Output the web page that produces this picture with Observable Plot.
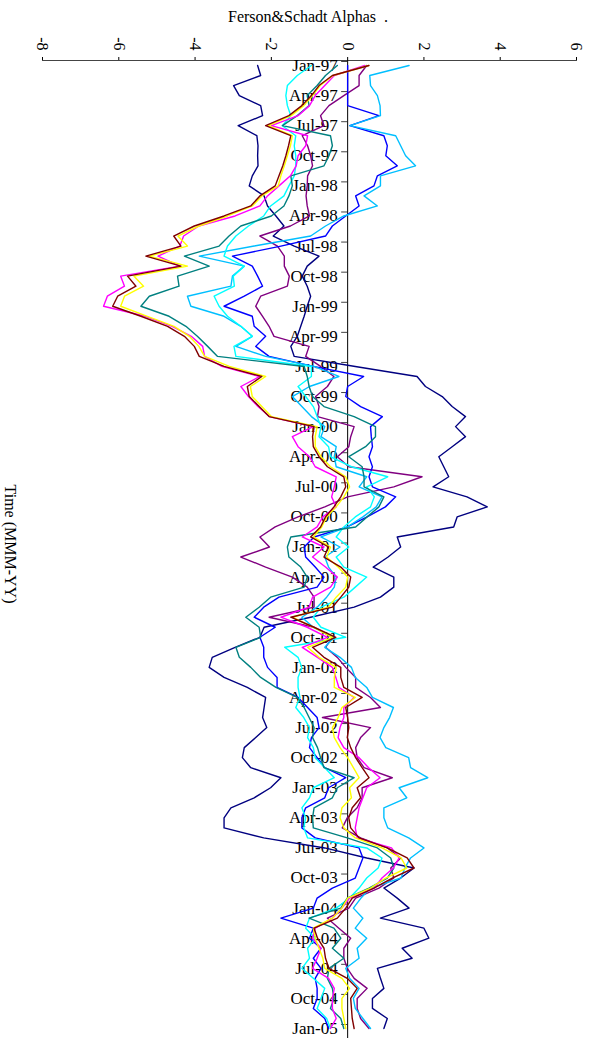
<!DOCTYPE html>
<html>
<head>
<meta charset="utf-8">
<script src="https://cdn.jsdelivr.net/npm/d3@7"></script>
<script src="https://cdn.jsdelivr.net/npm/@observablehq/plot@0.6"></script>
<style>
  html, body { margin: 0; padding: 0; background: #fff; }
  #wrap { position: relative; width: 590px; height: 1042px; overflow: hidden; }
  #title { position: absolute; left: 228px; top: 9px; font: 16px "Liberation Serif", serif; line-height: 16px; white-space: pre; color: #000; }
  #ylab { position: absolute; left: 10px; top: 544px; transform: translate(-50%, -50%) rotate(90deg); font: 16px "Liberation Serif", serif; white-space: pre; color: #000; }
  #chart { position: absolute; left: 0; top: 0; }
</style>
</head>
<body>
<div id="wrap">
  <div id="chart"></div>
  <div id="title">Ferson&amp;Schadt Alphas  .</div>
  <div id="ylab">Time (MMM-YY)</div>
</div>
<script>
// Monthly observations Jan-97 ... Jan-05 (97 months), index 0..96
const monthIndex = d3.range(97);

// Quarterly tick labels (every 3 months)
const tickLabels = ["Jan-97","Apr-97","Jul-97","Oct-97","Jan-98","Apr-98","Jul-98","Oct-98",
  "Jan-99","Apr-99","Jul-99","Oct-99","Jan-00","Apr-00","Jul-00","Oct-00",
  "Jan-01","Apr-01","Jul-01","Oct-01","Jan-02","Apr-02","Jul-02","Oct-02",
  "Jan-03","Apr-03","Jul-03","Oct-03","Jan-04","Apr-04","Jul-04","Oct-04","Jan-05"];
const tickIndex = tickLabels.map((_, i) => i * 3);

const xTicks = [-8, -6, -4, -2, 0, 2, 4, 6];

// Series values (alpha, one value per month)
const seriesNavy = [
  -2.36,-2.28,-2.99,-2.84,-2.28,-2.23,-2.87,-2.38,-2.35,-2.36,-2.35,-2.50,
  -2.58,-2.19,-2.10,-1.88,-1.67,-1.95,-1.40,-0.75,-1.06,-1.19,-1.06,-0.97,
  -1.06,-1.14,-1.23,-1.32,-1.49,-1.40,0.20,1.82,2.04,2.48,2.74,3.09,
  2.83,3.09,2.74,2.39,2.52,2.65,2.24,3.13,3.66,2.87,2.78,1.30,
  1.39,1.06,0.67,1.21,1.21,0.86,0.17,-0.97,-2.19,-2.30,-2.95,-3.55,
  -3.63,-3.24,-2.63,-2.15,-2.19,-2.23,-2.12,-2.41,-2.71,-2.76,-2.54,-1.75,
  -2.02,-2.45,-3.06,-3.24,-3.24,-2.20,-0.60,0.50,1.74,1.39,0.95,1.30,
  1.61,0.86,2.00,2.13,1.43,1.69,0.78,0.86,0.95,0.65,0.65,1.04,
  0.95];
const seriesPurple = [
  0.50,0.30,0.30,-0.10,-0.49,-0.71,-0.62,-1.19,-1.05,-0.97,-0.92,-1.05,
  -1.06,-1.09,-1.06,-1.00,-1.50,-2.30,-1.84,-1.66,-1.66,-1.53,-1.58,-2.28,
  -2.41,-2.23,-2.06,-1.93,-1.01,-1.10,-0.71,-0.36,-0.53,-0.84,-0.75,-0.79,
  0.17,0.08,0.03,-0.27,0.03,1.95,1.21,0.00,-0.60,-1.30,-1.90,-2.30,
  -2.05,-2.80,-2.15,-1.45,-1.06,-0.88,-0.88,-2.06,-0.88,-0.40,-0.58,-0.27,
  -0.05,0.21,0.21,0.60,0.86,-0.66,0.60,0.34,0.21,0.25,0.43,1.17,
  0.38,0.38,0.25,-0.01,-0.14,0.34,1.04,1.39,1.13,1.21,0.82,0.21,
  0.03,-0.53,-0.23,0.08,-0.10,-0.10,-0.01,0.17,0.51,0.25,0.25,0.34,
  0.56];
const seriesBlue = [
  0.00,0.00,0.00,0.00,0.00,0.82,0.06,0.95,1.04,1.00,1.30,0.78,
  0.69,0.21,0.30,-0.05,-0.40,-0.58,-1.75,-3.02,-2.50,-2.36,-2.23,-2.71,
  -3.24,-2.50,-2.45,-2.15,-2.41,-2.06,-0.90,0.42,0.00,-0.05,0.34,0.91,
  0.60,0.62,0.65,0.56,0.65,0.56,0.65,1.26,0.99,0.51,-0.01,-0.88,
  -1.14,-1.10,-0.85,-0.62,-0.80,-1.80,-2.20,-2.45,-1.90,-2.30,-2.20,-2.20,
  -2.10,-1.85,-1.85,-1.30,-1.05,-0.80,-0.75,-0.95,-1.00,-0.80,-0.60,-0.05,
  -0.50,-0.60,-1.10,-1.20,-1.20,-0.85,0.30,0.40,0.30,0.20,-0.40,-0.80,
  -0.90,-1.75,-0.90,-1.00,-0.70,-0.90,-0.70,-0.85,-0.80,-0.80,-0.90,-0.60,
  -0.50];
const seriesSkyBlue = [
  1.61,0.58,0.60,0.78,0.85,0.86,0.06,1.26,1.39,1.52,1.78,0.86,
  0.86,0.43,0.78,-0.10,-0.58,-0.97,-2.45,-3.89,-2.71,-3.02,-3.06,-4.20,
  -4.11,-3.24,-2.80,-2.50,-2.93,-2.15,-0.88,-0.23,-1.00,-1.45,-1.20,-0.95,
  -0.60,-0.70,-0.30,-0.35,-0.30,0.50,0.30,0.90,0.75,0.40,0.00,-0.70,
  -0.20,-0.60,-0.50,-0.30,-0.35,-0.55,-0.80,-1.20,-0.90,-0.35,-0.60,-0.20,
  0.10,0.20,0.50,0.65,1.20,1.10,0.95,0.85,1.00,1.60,1.65,2.10,
  1.35,1.55,0.95,0.95,1.05,1.60,2.00,1.65,1.50,1.40,0.60,0.35,
  0.15,0.40,0.20,0.50,0.25,0.30,-0.05,0.05,0.30,0.15,0.20,0.40,
  0.60];
const seriesCyan = [
  -0.95,-1.32,-1.58,-1.62,-1.58,-1.49,-1.71,-1.36,-1.40,-1.36,-1.36,-1.40,
  -1.54,-1.67,-2.02,-2.20,-2.60,-2.93,-3.15,-3.24,-2.71,-3.00,-2.97,-3.50,
  -3.37,-3.15,-2.80,-2.50,-2.98,-2.93,-0.95,-0.95,-1.30,-1.10,-0.90,-0.80,
  -0.70,-0.75,-0.50,-0.45,0.10,1.05,0.50,0.70,0.60,0.20,-0.10,-0.30,
  0.03,-0.30,-0.10,0.50,0.20,-0.10,-0.70,-0.90,-0.70,-0.05,-1.65,-1.30,
  -1.20,-1.30,-1.30,-1.25,-1.36,-1.15,-1.00,-1.05,-0.90,-0.85,-0.60,-0.35,
  -0.90,-1.00,-1.20,-1.10,-1.15,-1.05,0.50,0.90,0.80,0.50,0.30,0.05,
  -0.30,-1.00,-1.10,-0.85,-1.05,-1.00,-1.20,-0.90,-0.60,-0.70,-0.80,-0.55,
  -0.45];
const seriesTeal = [
  -0.27,-0.58,-0.80,-1.06,-1.01,-1.32,-1.71,-0.45,-0.40,-0.49,-0.62,-1.49,
  -1.45,-1.54,-1.67,-2.00,-2.80,-3.11,-3.37,-4.28,-3.63,-4.46,-4.42,-5.20,
  -5.42,-4.68,-4.24,-3.94,-3.67,-3.41,-1.14,-1.06,-1.01,-0.92,-0.62,0.17,
  0.73,0.73,0.47,0.03,0.38,0.43,0.43,0.95,0.82,0.51,0.21,-1.49,
  -1.58,-1.54,-1.23,-1.06,-1.14,-2.02,-2.32,-2.67,-2.32,-2.28,-2.93,-2.84,
  -2.54,-2.28,-1.88,-1.32,-1.14,-1.01,-0.88,-0.92,-0.79,-0.71,-0.62,0.17,
  -0.27,-0.40,-0.88,-0.92,-0.90,-0.01,0.78,1.13,1.21,1.04,0.56,-0.01,
  -0.18,-1.01,-0.36,-0.18,-0.40,-0.10,-0.49,-0.53,-0.40,-0.36,-0.45,-0.18,
  -0.10];
const seriesMagenta = [
  0.45,-0.35,-0.60,-0.85,-1.00,-1.30,-2.00,-1.05,-1.10,-1.30,-1.35,-1.50,
  -1.80,-2.10,-2.30,-2.95,-3.90,-4.30,-4.40,-4.97,-4.40,-5.95,-5.85,-6.30,
  -6.40,-5.30,-4.60,-4.10,-3.80,-3.75,-3.30,-2.30,-2.80,-2.60,-2.35,-2.05,
  -0.90,-1.45,-1.30,-1.00,-0.85,-0.30,-0.35,-0.42,-0.30,-0.65,-0.80,-1.19,
  -0.62,-0.92,-0.58,-0.27,-0.45,-0.92,-1.01,-1.75,-1.06,-0.53,-1.19,-0.79,
  -0.40,-0.31,-0.23,0.17,-0.10,-0.10,-0.20,-0.25,-0.10,0.30,0.55,0.85,
  0.50,0.40,0.30,0.25,0.20,0.25,1.15,1.35,1.20,0.90,0.70,0.05,
  -0.15,-0.40,-0.85,-0.92,-0.70,-0.80,-0.92,-0.50,-0.35,-0.40,-0.40,-0.30,
  -0.45];
const seriesYellow = [
  0.55,-0.38,-0.72,-0.92,-1.15,-1.48,-2.08,-1.45,-1.50,-1.58,-1.66,-1.75,
  -1.82,-2.25,-2.50,-3.15,-3.90,-4.45,-4.20,-5.20,-4.20,-5.60,-5.35,-5.85,
  -5.95,-5.25,-4.55,-4.15,-3.90,-3.75,-3.10,-2.15,-2.55,-2.50,-2.25,-2.00,
  -0.80,-0.85,-0.85,-0.70,-0.45,-0.05,0.05,-0.10,-0.30,-0.55,-0.68,-0.90,
  -0.45,-0.55,-0.25,0.00,-0.05,-0.30,-0.50,-1.45,-0.90,-0.40,-1.05,-0.75,
  -0.30,-0.35,-0.35,0.20,-0.15,-0.25,-0.40,-0.35,-0.20,0.00,0.15,0.30,
  0.05,0.10,-0.15,-0.20,-0.10,0.20,0.90,1.40,1.55,1.00,0.60,0.00,
  -0.15,-0.40,-0.90,-0.85,-0.75,-0.65,-0.60,-0.15,0.05,-0.15,-0.15,-0.10,
  -0.05];
const seriesMaroon = [
  0.56,-0.40,-0.75,-0.95,-1.20,-1.54,-2.15,-1.49,-1.55,-1.62,-1.70,-1.80,
  -1.90,-2.30,-2.54,-3.24,-4.02,-4.56,-4.37,-5.29,-4.37,-5.77,-5.55,-6.03,
  -6.16,-5.42,-4.72,-4.28,-4.02,-3.89,-3.24,-2.25,-2.63,-2.58,-2.32,-2.06,
  -0.88,-0.92,-0.90,-0.75,-0.53,-0.10,-0.05,-0.18,-0.36,-0.58,-0.71,-0.97,
  -0.50,-0.62,-0.18,0.08,0.03,-0.18,-0.40,-1.49,-0.88,-0.31,-0.92,-0.62,
  -0.18,-0.18,-0.10,0.38,-0.05,0.00,0.03,-0.01,0.08,0.21,0.38,0.56,
  0.25,0.34,0.12,0.03,0.08,0.30,1.04,1.56,1.74,1.17,0.69,0.12,
  -0.05,-0.27,-0.88,-0.79,-0.62,-0.58,-0.49,-0.01,0.25,0.08,0.10,0.12,
  0.17];

const seriesList = [
  {name: "navy", color: "#000080", values: seriesNavy},
  {name: "purple", color: "#800080", values: seriesPurple},
  {name: "blue", color: "#0000FF", values: seriesBlue},
  {name: "skyblue", color: "#00BFFF", values: seriesSkyBlue},
  {name: "cyan", color: "#00FFFF", values: seriesCyan},
  {name: "teal", color: "#008080", values: seriesTeal},
  {name: "magenta", color: "#FF00FF", values: seriesMagenta},
  {name: "yellow", color: "#FFFF00", values: seriesYellow},
  {name: "maroon", color: "#800000", values: seriesMaroon}
];

const lineMarks = seriesList.map(s =>
  Plot.line(monthIndex.map(i => ({m: i, v: s.values[i]})), {
    x: "v", y: "m", stroke: s.color, strokeWidth: 1.4, curve: "linear"
  })
);

const chart = Plot.plot({
  width: 590,
  height: 1042,
  marginTop: 60,
  marginLeft: 42,
  marginRight: 14,
  marginBottom: 4,
  style: {fontFamily: "'Liberation Serif', serif", fontSize: "16px", background: "#fff", color: "#000"},
  x: {
    domain: [-8, 6], axis: "top", ticks: xTicks, tickSize: 4, tickPadding: 6,
    tickRotate: 90, tickFormat: d => String(d), label: null
  },
  y: {domain: [0, 96], range: [65, 1028], axis: null},
  marks: [
    Plot.frame({anchor: "top", stroke: "#444"}),
    Plot.text(tickIndex, {x: 0, y: d => d, text: (d, i) => tickLabels[i], textAnchor: "end", dx: -10, fill: "#000", fontSize: 17}),
    Plot.ruleY(tickIndex, {y: d => d, x1: 0, x2: 0, insetLeft: -6, dy: -4, stroke: "#444"}),
    Plot.ruleX([0], {stroke: "#000", strokeWidth: 1}),
    ...lineMarks
  ]
});
document.getElementById("chart").appendChild(chart);
</script>
</body>
</html>
